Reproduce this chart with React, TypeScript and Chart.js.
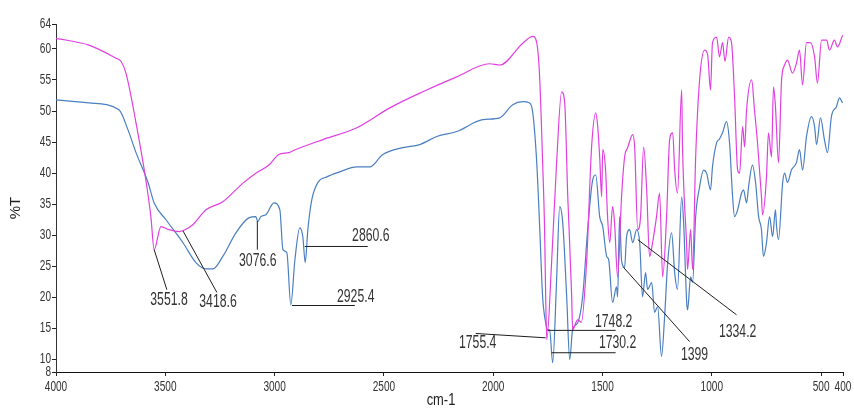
import { useEffect, useRef } from 'react';
import { Chart, registerables } from 'chart.js';

Chart.register(...registerables);

const FONT = '"Liberation Sans", Arial, sans-serif';

// Axis ticks
const xTickValues = [4000, 3500, 3000, 2500, 2000, 1500, 1000, 500, 400];
const yTickValues = [8, 10, 15, 20, 25, 30, 35, 40, 45, 50, 55, 60, 64];
const xAxisTitle = 'cm-1';
const yAxisTitle = '%T';

// Sample A (magenta) – wavenumber (cm-1) and %T
const sampleAWavenumber = [
  4000, 3849, 3726, 3703, 3680, 3634, 3589, 3566, 3551, 3520,
  3483, 3438, 3415, 3374, 3314, 3237, 3145, 3086, 3026, 2981,
  2935, 2903, 2779, 2624, 2473, 2322, 2167, 2016, 1970, 1865,
  1819, 1801, 1787, 1774, 1765, 1760, 1755, 1733, 1710, 1687,
  1673, 1659, 1641, 1637, 1614, 1597, 1573, 1550, 1531, 1522,
  1513, 1504, 1499, 1486, 1477, 1467, 1454, 1445, 1431, 1413,
  1399, 1385, 1362, 1353, 1339, 1326, 1312, 1298, 1285, 1271,
  1253, 1239, 1225, 1207, 1193, 1179, 1170, 1157, 1138, 1134,
  1115, 1111, 1097, 1088, 1074, 1056, 1033, 1019, 1006, 997,
  978, 965, 951, 940, 923, 910, 896, 882, 873, 859,
  850, 841, 818, 805, 791, 773, 768, 750, 741, 727,
  718, 709, 695, 681, 667, 654, 631, 613, 599, 585,
  567, 549, 530, 517, 498, 475, 462, 439, 425, 402,
];
const sampleATransmittance = [
  61.7, 60.6, 58.5, 58.0, 56.1, 48.1, 38.9, 33.0, 27.7, 31.4,
  30.9, 30.6, 30.8, 31.7, 34.1, 35.4, 38.4, 40.0, 41.3, 43.0,
  43.3, 43.8, 45.4, 47.3, 50.5, 53.1, 55.5, 57.6, 57.4, 60.9,
  62.0, 61.0, 55.0, 41.7, 30.9, 20.1, 13.2, 25.6, 41.7, 53.1,
  51.3, 36.2, 20.1, 14.8, 16.4, 16.0, 25.6, 44.2, 49.7, 47.5,
  42.6, 36.2, 43.8, 40.5, 33.0, 28.8, 34.6, 32.0, 23.3, 36.2,
  42.6, 44.1, 46.2, 44.2, 30.9, 33.0, 44.2, 37.3, 26.6, 28.8,
  33.0, 36.8, 23.3, 33.0, 45.4, 46.5, 40.5, 36.8, 53.4, 44.2,
  28.2, 24.5, 30.9, 24.5, 42.6, 55.0, 59.8, 59.0, 53.4, 61.0,
  61.9, 58.7, 61.0, 58.0, 61.9, 61.0, 52.3, 40.5, 40.0, 47.5,
  44.2, 50.2, 55.0, 50.2, 44.9, 36.2, 33.3, 39.4, 46.5, 42.6,
  53.9, 50.7, 41.7, 55.0, 57.4, 58.2, 56.1, 57.7, 59.8, 54.2,
  61.0, 61.0, 58.7, 54.5, 61.4, 61.4, 59.8, 61.4, 60.3, 62.2,
];

// Sample B (blue)
const sampleBWavenumber = [
  4000, 3849, 3712, 3671, 3634, 3579, 3551, 3497, 3419, 3360,
  3314, 3282, 3237, 3177, 3118, 3086, 3077, 3063, 3040, 3003,
  2976, 2962, 2944, 2926, 2907, 2885, 2871, 2860, 2848, 2830,
  2802, 2761, 2702, 2624, 2565, 2505, 2414, 2336, 2258, 2167,
  2048, 1970, 1911, 1865, 1833, 1819, 1801, 1787, 1774, 1760,
  1751, 1742, 1728, 1710, 1696, 1682, 1664, 1650, 1637, 1614,
  1591, 1568, 1545, 1531, 1513, 1499, 1481, 1472, 1454, 1436,
  1431, 1422, 1413, 1399, 1390, 1376, 1362, 1344, 1330, 1317,
  1303, 1294, 1275, 1262, 1248, 1230, 1216, 1202, 1184, 1170,
  1157, 1138, 1129, 1115, 1111, 1097, 1088, 1074, 1056, 1038,
  1024, 1006, 997, 978, 965, 951, 933, 919, 905, 896,
  882, 864, 855, 841, 832, 814, 800, 786, 773, 764,
  750, 736, 722, 709, 704, 695, 676, 667, 654, 636,
  613, 599, 585, 567, 544, 530, 521, 503, 485, 471,
  453, 430, 416, 402,
];
const sampleBTransmittance = [
  51.8, 51.3, 50.2, 47.0, 43.3, 38.5, 35.2, 32.5, 28.8, 25.6,
  24.6, 24.6, 26.6, 30.4, 32.8, 33.0, 32.2, 33.0, 33.3, 35.2,
  34.1, 27.7, 27.2, 18.8, 26.1, 31.2, 29.8, 25.6, 30.9, 35.7,
  38.5, 39.4, 40.2, 41.0, 41.0, 43.0, 44.1, 44.6, 45.9, 46.7,
  48.6, 48.9, 51.0, 51.5, 51.3, 49.7, 41.7, 30.9, 20.1, 15.9,
  14.8, 14.8, 9.5, 22.9, 34.6, 32.0, 20.1, 10.0, 14.8, 15.9,
  20.1, 30.9, 38.9, 39.7, 33.0, 31.4, 26.6, 26.1, 19.2, 21.7,
  20.1, 33.0, 26.0, 24.8, 29.8, 30.9, 28.8, 30.9, 28.8, 20.1,
  24.0, 21.3, 22.4, 17.6, 18.5, 10.5, 16.9, 25.6, 30.4, 24.0,
  21.3, 36.2, 32.0, 19.2, 18.0, 23.3, 22.4, 33.0, 37.8, 40.5,
  40.0, 37.3, 41.0, 44.9, 45.5, 46.5, 48.3, 44.9, 36.2, 33.0,
  34.1, 36.8, 37.3, 35.2, 37.8, 41.3, 38.5, 33.0, 30.9, 26.6,
  28.8, 33.0, 29.8, 34.1, 31.5, 29.3, 38.5, 40.0, 38.5, 40.5,
  41.7, 43.8, 40.5, 45.9, 49.1, 47.5, 44.6, 48.9, 45.4, 43.3,
  49.1, 50.7, 52.1, 51.3,
];

// Peak annotations (data coordinates: wavenumber, %T)
const peakLabels = ['3551.8', '3418.6', '3076.6', '2860.6', '2925.4', '1755.4', '1748.2', '1730.2', '1399', '1334.2'];
const leaderStartWn = [3551, 3419, 3079, 2862, 2921, 1760, 1751, 1733, 1403, 1339];
const leaderStartT = [27.7, 30.7, 32.3, 28.2, 18.7, 13.5, 14.7, 11.1, 24.8, 29.3];
const leaderEndWn = [3493, 3264, 3079, 2574, 2633, 2080, 1440, 1440, 1102, 887];
const leaderEndT = [21.25, 20.8, 27.7, 28.2, 18.7, 14.2, 14.7, 11.1, 12.9, 17.2];
const labelWn = [3483, 3259, 3077, 2560, 2629, 2071, 1449, 1431, 1079, 882];
const labelT = [19.6, 19.2, 25.9, 29.8, 20.1, 12.7, 16.1, 12.65, 10.8, 14.5];

const toPoints = (xs: number[], ys: number[]) => xs.map((x, i) => ({ x, y: ys[i] }));

function condensedText(
  ctx: CanvasRenderingContext2D,
  text: string,
  x: number,
  y: number,
  size: number,
  sx: number,
  align: CanvasTextAlign,
  rotate = 0,
) {
  ctx.save();
  ctx.translate(x, y);
  if (rotate) ctx.rotate(rotate);
  ctx.scale(sx, 1);
  ctx.font = `${size}px ${FONT}`;
  ctx.textAlign = align;
  ctx.textBaseline = 'middle';
  ctx.fillText(text, 0, 0);
  ctx.restore();
}

const textPlugin = {
  id: 'spectrumText',
  afterDatasetsDraw(chart: any) {
    const { ctx, scales, chartArea } = chart;
    const xs = scales.x;
    const ys = scales.y;
    ctx.save();
    // peak leader lines and labels
    ctx.strokeStyle = '#1e1e1e';
    ctx.lineWidth = 1;
    ctx.fillStyle = '#333333';
    for (let i = 0; i < peakLabels.length; i++) {
      ctx.beginPath();
      ctx.moveTo(xs.getPixelForValue(leaderStartWn[i]), ys.getPixelForValue(leaderStartT[i]));
      ctx.lineTo(xs.getPixelForValue(leaderEndWn[i]), ys.getPixelForValue(leaderEndT[i]));
      ctx.stroke();
      condensedText(ctx, peakLabels[i], xs.getPixelForValue(labelWn[i]), ys.getPixelForValue(labelT[i]), 18, 0.68, 'center');
    }
    // tick labels
    ctx.fillStyle = '#333333';
    for (const v of xTickValues) {
      condensedText(ctx, String(v), xs.getPixelForValue(v), chartArea.bottom + 15.5, 14, 0.72, 'center');
    }
    for (const v of yTickValues) {
      condensedText(ctx, String(v), chartArea.left - 5, ys.getPixelForValue(v), 14, 0.72, 'right');
    }
    // axis titles
    ctx.fillStyle = '#222222';
    condensedText(ctx, xAxisTitle, 441, chartArea.bottom + 28, 17, 0.76, 'center');
    condensedText(ctx, yAxisTitle, 16, 208, 15, 1, 'center', -Math.PI / 2);
    ctx.restore();
  },
};

export default function App() {
  const canvasRef = useRef<HTMLCanvasElement | null>(null);

  useEffect(() => {
    document.body.style.margin = '0';
    const canvas = canvasRef.current;
    if (!canvas) return;
    const chart = new Chart(canvas, {
      type: 'line',
      data: {
        datasets: [
          {
            label: 'Sample A',
            data: toPoints(sampleAWavenumber, sampleATransmittance),
            borderColor: '#e040e0',
            borderWidth: 1.2,
            pointRadius: 0,
            fill: false,
            cubicInterpolationMode: 'monotone',
          },
          {
            label: 'Sample B',
            data: toPoints(sampleBWavenumber, sampleBTransmittance),
            borderColor: '#4a7fc1',
            borderWidth: 1.2,
            pointRadius: 0,
            fill: false,
            cubicInterpolationMode: 'monotone',
          },
        ],
      },
      options: {
        animation: false,
        responsive: false,
        devicePixelRatio: 1,
        layout: { padding: { top: 24, right: 11, left: 0, bottom: 0 } },
        plugins: {
          legend: { display: false },
          tooltip: { enabled: false },
        },
        scales: {
          x: {
            type: 'linear',
            reverse: true,
            min: 400,
            max: 4000,
            afterBuildTicks: (s: any) => {
              s.ticks = xTickValues.map((v) => ({ value: v }));
            },
            afterFit: (s: any) => {
              s.height = 40;
            },
            ticks: { display: false },
            grid: { display: true, drawOnChartArea: false, drawTicks: true, tickLength: 4, color: '#222' },
            border: { display: true, color: '#111', width: 1 },
            title: { display: false },
          },
          y: {
            type: 'linear',
            min: 8,
            max: 64,
            afterBuildTicks: (s: any) => {
              s.ticks = yTickValues.map((v) => ({ value: v }));
            },
            afterFit: (s: any) => {
              s.width = 56;
            },
            ticks: { display: false },
            grid: { display: true, drawOnChartArea: false, drawTicks: true, tickLength: 4, color: '#222' },
            border: { display: true, color: '#333', width: 1 },
            title: { display: false },
          },
        },
      },
      plugins: [textPlugin],
    } as any);
    return () => chart.destroy();
  }, []);

  return (
    <div style={{ width: 854, height: 412 }}>
      <canvas ref={canvasRef} width={854} height={412} style={{ display: 'block' }} />
    </div>
  );
}
